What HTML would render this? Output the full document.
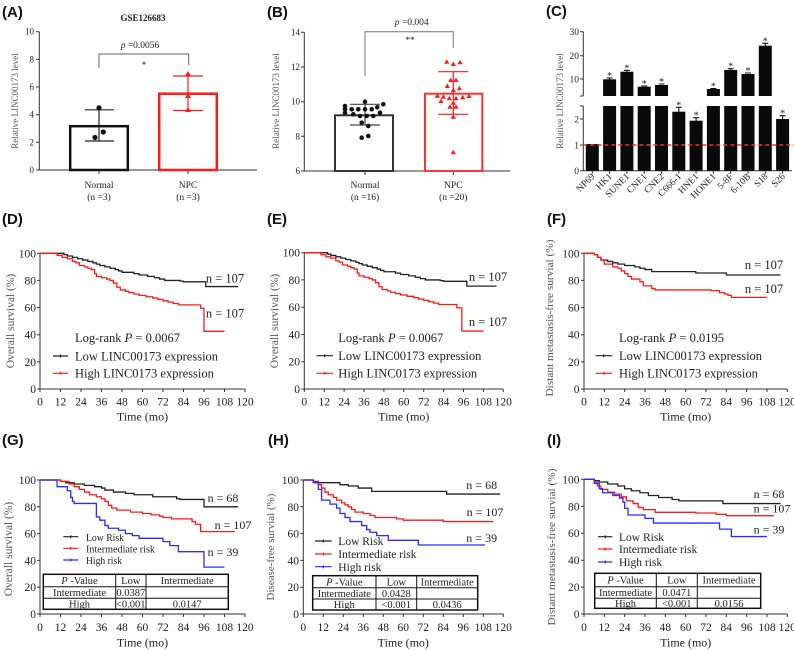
<!DOCTYPE html>
<html><head><meta charset="utf-8"><style>
html,body{margin:0;padding:0;background:#fff;}
svg{display:block;}
text{font-family:"Liberation Serif",serif;fill:#222;}
.pl{font-family:"Liberation Sans",sans-serif;font-weight:bold;font-size:15px;fill:#111;}
.ax{stroke:#333;stroke-width:1;fill:none;}
.yl{fill:#555;}
.k{stroke:#222;stroke-width:1.3;fill:none;vector-effect:non-scaling-stroke;}
.r{stroke:#ff1a1a;stroke-width:1.3;fill:none;vector-effect:non-scaling-stroke;}
.b{stroke:#2b2bff;stroke-width:1.3;fill:none;vector-effect:non-scaling-stroke;}
</style></head><body>
<svg width="794" height="650" viewBox="0 0 794 650" xmlns="http://www.w3.org/2000/svg">
<rect width="794" height="650" fill="#fff"/>

<!-- ================= PANEL A ================= -->
<text class="pl" x="2" y="17">(A)</text>
<text x="143" y="21" font-size="9" font-weight="bold" text-anchor="middle">GSE126683</text>
<path class="ax" stroke="#555" d="M39.3,31.7 V170 H257 M36,31.7 H39.3 M36,59.4 H39.3 M36,87 H39.3 M36,114.7 H39.3 M36,142.3 H39.3 M36,170 H39.3 M99,170 V174 M188,170 V174"/>
<g font-size="9" text-anchor="end">
<text x="34" y="34.7">10</text><text x="34" y="62.4">8</text><text x="34" y="90">6</text><text x="34" y="117.7">4</text><text x="34" y="145.3">2</text><text x="34" y="173">0</text>
</g>
<text class="yl" font-size="9" text-anchor="middle" transform="translate(18,101) rotate(-90)">Relative LINC00173 level</text>
<rect x="70.2" y="126.2" width="57.6" height="43.8" fill="#fff" stroke="#111" stroke-width="2.5"/>
<rect x="159.2" y="93.7" width="57.6" height="76.3" fill="#fff" stroke="#ff1a1a" stroke-width="2.5"/>
<path d="M99,109.8 V141 M85,109.8 H114 M85,141 H114" stroke="#222" stroke-width="1.2" fill="none"/>
<circle cx="99" cy="107.8" r="2.6" fill="#111"/><circle cx="103.3" cy="132" r="2.6" fill="#111"/><circle cx="95" cy="137.5" r="2.6" fill="#111"/>
<path d="M188,76 V110.5 M173,76 H203 M173,110.5 H203" stroke="#ff1a1a" stroke-width="1.2" fill="none"/>
<g fill="#ff1a1a">
<path d="M188,71 l3,5 h-6z"/><path d="M188,93 l3,5 h-6z"/><path d="M188,107 l3,5 h-6z"/>
</g>
<path d="M99,68 V54 H188.7 V65" stroke="#666" stroke-width="1" fill="none"/>
<text x="140" y="48" font-size="9.5" text-anchor="middle"><tspan font-style="italic">p</tspan> =0.0056</text>
<text x="144" y="68" font-size="9" text-anchor="middle">*</text>
<g font-size="9.5" text-anchor="middle">
<text x="99" y="188">Normal</text><text x="99" y="200">(n =3)</text>
<text x="188" y="188">NPC</text><text x="188" y="200">(n =3)</text>
</g>

<!-- ================= PANEL B ================= -->
<text class="pl" x="267" y="17">(B)</text>
<path class="ax" stroke="#555" d="M304.3,32.3 V171 H510 M301,32.3 H304.3 M301,67 H304.3 M301,101.7 H304.3 M301,136.3 H304.3 M301,171 H304.3 M365,171 V175 M453.3,171 V175"/>
<g font-size="9" text-anchor="end">
<text x="300" y="35.3">14</text><text x="300" y="70">12</text><text x="300" y="104.7">10</text><text x="300" y="139.3">8</text><text x="300" y="174">6</text>
</g>
<text class="yl" font-size="9" text-anchor="middle" transform="translate(279,101) rotate(-90)">Relative LINC00173 level</text>
<rect x="335" y="115.3" width="58" height="55.7" fill="#fff" stroke="#333" stroke-width="2"/>
<rect x="425" y="93.7" width="57.3" height="77.3" fill="#fff" stroke="#ff3333" stroke-width="2"/>
<path d="M365,104.3 V125 M350,104.3 H380 M350,125 H380" stroke="#444" stroke-width="1.2" fill="none"/>
<path d="M453.3,71.7 V114.3 M438.3,71.7 H468.3 M438.3,114.3 H468.3" stroke="#ff1a1a" stroke-width="1.2" fill="none"/>
<g fill="#111">
<circle cx="365" cy="101.7" r="2.3"/><circle cx="345" cy="106" r="2.3"/><circle cx="383.3" cy="104.3" r="2.3"/>
<circle cx="345" cy="109.3" r="2.3"/><circle cx="351.7" cy="109.3" r="2.3"/><circle cx="358.3" cy="109.3" r="2.3"/><circle cx="365" cy="109.3" r="2.3"/><circle cx="371.7" cy="109.3" r="2.3"/><circle cx="377.3" cy="107.3" r="2.3"/>
<circle cx="345" cy="112.7" r="2.3"/><circle cx="353.3" cy="114.3" r="2.3"/><circle cx="360" cy="116" r="2.3"/><circle cx="366.7" cy="116" r="2.3"/><circle cx="373.3" cy="116" r="2.3"/><circle cx="380" cy="112.7" r="2.3"/>
<circle cx="361.7" cy="122.7" r="2.3"/><circle cx="368.3" cy="126" r="2.3"/><circle cx="361.7" cy="137.7" r="2.3"/><circle cx="368.3" cy="136" r="2.3"/>
</g>
<g fill="#ff1a1a">
<path d="M446.7,59.2 l2.6,4.5 h-5.2z"/><path d="M453.3,61.5 l2.6,4.5 h-5.2z"/><path d="M460,59.8 l2.6,4.5 h-5.2z"/>
<path d="M450.7,77.5 l2.6,4.5 h-5.2z"/><path d="M456,77.5 l2.6,4.5 h-5.2z"/>
<path d="M447.3,83.5 l2.6,4.5 h-5.2z"/><path d="M453.3,87.5 l2.6,4.5 h-5.2z"/><path d="M459.3,85.8 l2.6,4.5 h-5.2z"/>
<path d="M437.3,93.2 l2.6,4.5 h-5.2z"/><path d="M443.3,94.2 l2.6,4.5 h-5.2z"/><path d="M449.3,95.8 l2.6,4.5 h-5.2z"/><path d="M456,95.8 l2.6,4.5 h-5.2z"/><path d="M462.7,94.8 l2.6,4.5 h-5.2z"/><path d="M469,93.5 l2.6,4.5 h-5.2z"/>
<path d="M441,98.5 l2.6,4.5 h-5.2z"/><path d="M453.3,100.2 l2.6,4.5 h-5.2z"/>
<path d="M450,104.2 l2.6,4.5 h-5.2z"/><path d="M456,104.2 l2.6,4.5 h-5.2z"/>
<path d="M453.3,114.2 l2.6,4.5 h-5.2z"/><path d="M453.3,149.8 l2.6,4.5 h-5.2z"/>
</g>
<path d="M365,76 V31.7 H453.3 V47.7" stroke="#777" stroke-width="1" fill="none"/>
<text x="411.7" y="25" font-size="9.5" text-anchor="middle"><tspan font-style="italic">p</tspan> =0.004</text>
<text x="410" y="43" font-size="9" text-anchor="middle">**</text>
<g font-size="9.5" text-anchor="middle">
<text x="365" y="188">Normal</text><text x="365" y="200">(n =16)</text>
<text x="453.3" y="188">NPC</text><text x="453.3" y="200">(n =20)</text>
</g>

<!-- ================= PANEL C ================= -->
<text class="pl" x="546" y="16">(C)</text>
<path class="ax" stroke="#555" d="M583.3,31.7 V96 M580,31.7 H583.3 M580,55.7 H583.3 M580,79 H583.3 M580,96 H583.3 M583.3,106 V170.7 H792 M580,106 H583.3 M580,119 H583.3 M580,145 H583.3 M580,170.7 H583.3"/>
<path class="ax" stroke="#555" d="M592.3,170.7 v3 M609.6,170.7 v3 M626.9,170.7 v3 M644.2,170.7 v3 M661.5,170.7 v3 M678.8,170.7 v3 M696.1,170.7 v3 M713.4,170.7 v3 M730.7,170.7 v3 M748,170.7 v3 M765.3,170.7 v3 M782.6,170.7 v3"/>
<g font-size="9.5" text-anchor="end">
<text x="579" y="35">30</text><text x="579" y="59">20</text><text x="579" y="82.3">10</text>
<text x="579" y="122.3">2</text><text x="579" y="148.3">1</text><text x="579" y="174">0</text>
</g>
<text class="yl" font-size="9" text-anchor="middle" transform="translate(563,101) rotate(-90)">Relative LINC00173 level</text>
<g fill="#0a0a0a">
<rect x="585.8" y="144" width="13" height="26.7"/>
<rect x="603.1" y="79.3" width="13" height="16.7"/><rect x="603.1" y="106" width="13" height="64.7"/>
<rect x="620.4" y="71.7" width="13" height="24.3"/><rect x="620.4" y="106" width="13" height="64.7"/>
<rect x="637.7" y="86.7" width="13" height="9.3"/><rect x="637.7" y="106" width="13" height="64.7"/>
<rect x="655" y="85" width="13" height="11"/><rect x="655" y="106" width="13" height="64.7"/>
<rect x="672.3" y="111.7" width="13" height="59"/>
<rect x="689.6" y="120.7" width="13" height="50"/>
<rect x="706.9" y="89" width="13" height="7"/><rect x="706.9" y="106" width="13" height="64.7"/>
<rect x="724.2" y="70" width="13" height="26"/><rect x="724.2" y="106" width="13" height="64.7"/>
<rect x="741.5" y="74" width="13" height="22"/><rect x="741.5" y="106" width="13" height="64.7"/>
<rect x="758.8" y="45.7" width="13" height="50.3"/><rect x="758.8" y="106" width="13" height="64.7"/>
<rect x="776.1" y="119" width="13" height="51.7"/>
</g>
<path d="M606.6,78 h6 M609.6,78 v2 M623.9,70.3 h6 M626.9,70.3 v2 M641.2,86 h6 M658.5,84 h6 M675.8,107.3 h6 M678.8,107.3 v5 M693.1,117.7 h6 M696.1,117.7 v4 M710.4,88.5 h6 M727.7,68.7 h6 M730.7,68.7 v2 M745,73 h6 M762.3,43.3 h6 M765.3,43.3 v3 M779.6,115.7 h6 M782.6,115.7 v4" stroke="#111" stroke-width="1.1" fill="none"/>
<g font-size="10" text-anchor="middle">
<text x="609.6" y="79">*</text><text x="626.9" y="71.3">*</text><text x="644.2" y="87">*</text><text x="661.5" y="85">*</text>
<text x="678.8" y="108.3">*</text><text x="696.1" y="118.7">*</text><text x="713.4" y="89.5">*</text><text x="730.7" y="69.7">*</text>
<text x="748" y="74">*</text><text x="765.3" y="44.3">*</text><text x="782.6" y="116.7">*</text>
</g>
<line x1="583.3" y1="145" x2="794" y2="145" stroke="#ff2a2a" stroke-width="1.5" stroke-dasharray="4,3"/>
<g font-size="9.5" text-anchor="end">
<text transform="translate(595.3,177) rotate(-45)">NP69</text>
<text transform="translate(612.6,177) rotate(-45)">HK1</text>
<text transform="translate(629.9,177) rotate(-45)">SUNE1</text>
<text transform="translate(647.2,177) rotate(-45)">CNE1</text>
<text transform="translate(664.5,177) rotate(-45)">CNE2</text>
<text transform="translate(681.8,177) rotate(-45)">C666-1</text>
<text transform="translate(699.1,177) rotate(-45)">HNE1</text>
<text transform="translate(716.4,177) rotate(-45)">HONE1</text>
<text transform="translate(733.7,177) rotate(-45)">5-8F</text>
<text transform="translate(751,177) rotate(-45)">6-10B</text>
<text transform="translate(768.3,177) rotate(-45)">S18</text>
<text transform="translate(785.6,177) rotate(-45)">S26</text>
</g>

<!-- ================= PANEL D ================= -->
<text class="pl" x="2" y="224">(D)</text>
<path class="ax" d="M40,253.3 V389 H245 M37,253.3 H40 M37,280.4 H40 M37,307.6 H40 M37,334.7 H40 M37,361.9 H40 M37,389 H40 M40,389 v3 M60.5,389 v3 M81,389 v3 M101.5,389 v3 M122,389 v3 M142.5,389 v3 M163,389 v3 M183.5,389 v3 M204,389 v3 M224.5,389 v3 M245,389 v3"/>
<g font-size="11.5" text-anchor="end">
<text x="36" y="257.3">100</text><text x="36" y="284.4">80</text><text x="36" y="311.6">60</text><text x="36" y="338.7">40</text><text x="36" y="365.9">20</text><text x="36" y="393">0</text>
</g>
<g font-size="11.5" text-anchor="middle">
<text x="40" y="405.5">0</text><text x="60.5" y="405.5">12</text><text x="81" y="405.5">24</text><text x="101.5" y="405.5">36</text><text x="122" y="405.5">48</text><text x="142.5" y="405.5">60</text><text x="163" y="405.5">72</text><text x="183.5" y="405.5">84</text><text x="204" y="405.5">96</text><text x="224.5" y="405.5">108</text><text x="245" y="405.5">120</text>
</g>
<text x="142.5" y="420.5" font-size="12" text-anchor="middle">Time (mo)</text>
<text class="yl" font-size="11.5" text-anchor="middle" transform="translate(14,321) rotate(-90)">Overall survival (%)</text>
<g transform="translate(40,389) scale(1.7083,-1.357)">
<path class="k" d="M0,100 H14 V99 H16 V98 H19 V97 H22 V96 H25 V95 H28 V94 H31 V93 H33 V92 H35 V91 H38 V90 H41 V89 H44 V88 H46 V87 H48 V86 H55 V85 H58 V84 H63 V83 H67 V82 H70 V81 H73 V80 H82 V79.5 H84 V79 H97 V75.5 H116"/>
<path class="r" d="M0,100 H10 V98.5 H13 V97 H16 V96 H19 V94 H21 V93 H23 V91 H26 V90 H28 V89 H30 V88 H32 V85 H33 V83 H36 V82 H39 V81 H41 V80 H43 V78 H45 V75 H47 V73 H50 V72 H52 V71 H55 V70 H58 V69 H62 V68 H66 V67 H69 V66 H72 V65 H75 V64 H78 V63 H81 V62 H94 V59.5 H96 V42.5 H108"/>
</g>
<g font-size="12.5" text-anchor="middle"><text x="225" y="282.5">n = 107</text><text x="225" y="317.5">n = 107</text></g>
<text x="75" y="342" font-size="12.5">Log-rank  <tspan font-style="italic">P</tspan> = 0.0067</text>
<path d="M53,356 H68 M60.5,354.5 v3" stroke="#222" stroke-width="1.2"/>
<path d="M53,373.3 H68 M60.5,371.8 v3" stroke="#ff1a1a" stroke-width="1.2"/>
<text x="75" y="360.3" font-size="12.5">Low LINC00173 expression</text>
<text x="75" y="377.6" font-size="12.5">High LINC0173 expression</text>

<!-- ================= PANEL E ================= -->
<text class="pl" x="267" y="224">(E)</text>
<path class="ax" d="M304.3,252.7 V389 H503.3 M301.3,252.7 H304.3 M301.3,279.9 H304.3 M301.3,307.2 H304.3 M301.3,334.5 H304.3 M301.3,361.7 H304.3 M301.3,389 H304.3 M304.3,389 v3 M324.2,389 v3 M344.1,389 v3 M364,389 v3 M383.9,389 v3 M403.8,389 v3 M423.7,389 v3 M443.6,389 v3 M463.5,389 v3 M483.4,389 v3 M503.3,389 v3"/>
<g font-size="11.5" text-anchor="end">
<text x="300" y="256.7">100</text><text x="300" y="283.9">80</text><text x="300" y="311.2">60</text><text x="300" y="338.5">40</text><text x="300" y="365.7">20</text><text x="300" y="393">0</text>
</g>
<g font-size="11.5" text-anchor="middle">
<text x="304.3" y="405.5">0</text><text x="324.2" y="405.5">12</text><text x="344.1" y="405.5">24</text><text x="364" y="405.5">36</text><text x="383.9" y="405.5">48</text><text x="403.8" y="405.5">60</text><text x="423.7" y="405.5">72</text><text x="443.6" y="405.5">84</text><text x="463.5" y="405.5">96</text><text x="483.4" y="405.5">108</text><text x="503.3" y="405.5">120</text>
</g>
<text x="403.8" y="420.5" font-size="12" text-anchor="middle">Time (mo)</text>
<text class="yl" font-size="11.5" text-anchor="middle" transform="translate(278,321) rotate(-90)">Overall survival (%)</text>
<g transform="translate(304.3,389) scale(1.6583,-1.363)">
<path class="k" d="M0,100 H14 V99 H16 V98 H19 V97 H22 V96 H25 V95 H28 V94 H31 V93 H33 V92 H35 V91 H38 V90 H41 V89 H44 V88 H46 V87 H48 V86 H55 V85 H58 V84 H63 V83 H67 V82 H70 V81 H73 V80 H82 V79.5 H84 V79 H98 V75.5 H116"/>
<path class="r" d="M0,100 H10 V98.5 H13 V97 H16 V96 H19 V94 H21 V93 H23 V91 H26 V90 H28 V89 H30 V88 H32 V85 H33 V83 H36 V82 H39 V81 H41 V80 H43 V78 H45 V75 H47 V73 H50 V72 H52 V71 H55 V70 H58 V69 H62 V68 H66 V67 H69 V66 H72 V65 H75 V64 H78 V63 H81 V62 H92 V59.5 H95 V42.5 H108"/>
</g>
<g font-size="12.5" text-anchor="middle"><text x="488" y="281">n = 107</text><text x="488" y="326">n = 107</text></g>
<text x="338.3" y="342" font-size="12.5">Log-rank  <tspan font-style="italic">P</tspan> = 0.0067</text>
<path d="M316.7,355.7 H333 M324.8,354.2 v3" stroke="#222" stroke-width="1.2"/>
<path d="M316.7,373.3 H333 M324.8,371.8 v3" stroke="#ff1a1a" stroke-width="1.2"/>
<text x="338.3" y="360" font-size="12.5">Low LINC00173 expression</text>
<text x="338.3" y="377.6" font-size="12.5">High LINC0173 expression</text>

<!-- ================= PANEL F ================= -->
<text class="pl" x="547" y="224">(F)</text>
<path class="ax" d="M584,253.3 V389 H787.3 M581,253.3 H584 M581,280.4 H584 M581,307.6 H584 M581,334.7 H584 M581,361.9 H584 M581,389 H584 M584,389 v3 M604.3,389 v3 M624.7,389 v3 M645,389 v3 M665.3,389 v3 M685.7,389 v3 M706,389 v3 M726.3,389 v3 M746.7,389 v3 M767,389 v3 M787.3,389 v3"/>
<g font-size="11.5" text-anchor="end">
<text x="579.5" y="257.3">100</text><text x="579.5" y="284.4">80</text><text x="579.5" y="311.6">60</text><text x="579.5" y="338.7">40</text><text x="579.5" y="365.9">20</text><text x="579.5" y="393">0</text>
</g>
<g font-size="11.5" text-anchor="middle">
<text x="584" y="405.5">0</text><text x="604.3" y="405.5">12</text><text x="624.7" y="405.5">24</text><text x="645" y="405.5">36</text><text x="665.3" y="405.5">48</text><text x="685.7" y="405.5">60</text><text x="706" y="405.5">72</text><text x="726.3" y="405.5">84</text><text x="746.7" y="405.5">96</text><text x="767" y="405.5">108</text><text x="787.3" y="405.5">120</text>
</g>
<text x="685.7" y="420.5" font-size="12" text-anchor="middle">Time (mo)</text>
<text class="yl" font-size="10.5" text-anchor="middle" textLength="157" lengthAdjust="spacingAndGlyphs" transform="translate(553,318) rotate(-90)">Distant metastasis-free survial (%)</text>
<g transform="translate(584,389) scale(1.6942,-1.357)">
<path class="k" d="M0,100 H6 V99 H8 V97 H10 V95 H14 V94 H17 V93 H20 V92 H24 V91 H30 V90 H33 V89 H36 V88 H40 V86.5 H66 V85.5 H84 V84 H116"/>
<path class="r" d="M0,100 H6 V99 H8 V97 H10 V95 H12 V92 H17 V90 H20 V89 H22 V87 H24 V85 H26 V83 H28 V81 H33 V79 H35 V76 H40 V74 H42 V73 H75 V72.5 H80 V71 H83 V70 H85 V69 H87 V67.5 H108"/>
</g>
<g font-size="12.5" text-anchor="middle"><text x="764" y="269">n = 107</text><text x="764" y="293">n = 107</text></g>
<text x="619" y="342" font-size="12.5">Log-rank  <tspan font-style="italic">P</tspan> = 0.0195</text>
<path d="M595.7,355.7 H612 M603.8,354.2 v3" stroke="#222" stroke-width="1.2"/>
<path d="M595.7,373.3 H612 M603.8,371.8 v3" stroke="#ff1a1a" stroke-width="1.2"/>
<text x="619" y="360" font-size="12.5">Low LINC00173 expression</text>
<text x="619" y="377.6" font-size="12.5">High LINC0173 expression</text>

<!-- ================= PANEL G ================= -->
<text class="pl" x="2" y="445">(G)</text>
<path class="ax" d="M40,480 V614 H245 M37,480 H40 M37,506.8 H40 M37,533.6 H40 M37,560.4 H40 M37,587.2 H40 M37,614 H40 M40,614 v3 M60.5,614 v3 M81,614 v3 M101.5,614 v3 M122,614 v3 M142.5,614 v3 M163,614 v3 M183.5,614 v3 M204,614 v3 M224.5,614 v3 M245,614 v3"/>
<g font-size="11.5" text-anchor="end">
<text x="36" y="484">100</text><text x="36" y="510.8">80</text><text x="36" y="537.6">60</text><text x="36" y="564.4">40</text><text x="36" y="591.2">20</text><text x="36" y="618">0</text>
</g>
<g font-size="11.5" text-anchor="middle">
<text x="40" y="631">0</text><text x="60.5" y="631">12</text><text x="81" y="631">24</text><text x="101.5" y="631">36</text><text x="122" y="631">48</text><text x="142.5" y="631">60</text><text x="163" y="631">72</text><text x="183.5" y="631">84</text><text x="204" y="631">96</text><text x="224.5" y="631">108</text><text x="245" y="631">120</text>
</g>
<text x="142.5" y="646.5" font-size="12" text-anchor="middle">Time (mo)</text>
<text class="yl" font-size="11.5" text-anchor="middle" transform="translate(12,549) rotate(-90)">Overall survival (%)</text>
<g transform="translate(40,614) scale(1.7083,-1.34)">
<path class="k" d="M0,100 H12 V99 H15 V98 H20 V97 H26 V96 H32 V95 H36 V94 H38 V92.5 H43 V91 H50 V90 H55 V89 H66 V87.5 H80 V86 H82 V85.5 H96 V80 H116"/>
<path class="r" d="M0,100 H12 V99 H17 V97 H20 V95 H23 V93 H26 V91 H29 V89 H33 V87.5 H36 V86 H38 V84 H40 V81 H42 V79 H45 V77.5 H53 V76 H60 V75 H65 V74 H70 V73 H72 V72 H77 V71 H89 V69 H91 V67 H94 V61.5 H114"/>
<path class="b" d="M0,100 H10 V95 H16 V92 H18 V87 H19 V84 H20 V82.5 H33 V72.5 H35 V70 H38 V66 H40 V64 H46 V62.5 H50 V60 H54 V58.5 H58 V56.5 H72 V54 H76 V51 H81 V46.5 H96 V35 H108"/>
</g>
<g font-size="12" text-anchor="middle"><text x="223" y="502">n = 68</text><text x="233" y="529">n = 107</text><text x="223" y="556">n = 39</text></g>
<path d="M63.3,536.7 H78.3 M70.8,535.2 v3" stroke="#222" stroke-width="1.2"/>
<path d="M63.3,548.3 H78.3 M70.8,546.8 v3" stroke="#ff1a1a" stroke-width="1.2"/>
<path d="M63.3,560 H78.3 M70.8,558.5 v3" stroke="#2b2bff" stroke-width="1.2"/>
<g font-size="11"><text x="86" y="540.8" textLength="38" lengthAdjust="spacingAndGlyphs">Low Risk</text><text x="86" y="552.4" textLength="69" lengthAdjust="spacingAndGlyphs">Intermediate risk</text><text x="86" y="564.1" textLength="36" lengthAdjust="spacingAndGlyphs">High risk</text></g>
<g stroke="#111" fill="none">
<rect x="43.3" y="574.3" width="185" height="35" stroke-width="1.5"/>
<path d="M43.3,586.7 H228.3 M43.3,598.3 H228.3 M115.7,574.3 V609.3 M146,574.3 V609.3" stroke-width="1"/>
</g>
<g font-size="10.5" text-anchor="middle">
<text x="79.5" y="584"><tspan font-style="italic">P</tspan> -Value</text><text x="130.8" y="584">Low</text><text x="187.2" y="584">Intermediate</text>
<text x="79.5" y="596">Intermediate</text><text x="130.8" y="596">0.0387</text>
<text x="79.5" y="607.3">High</text><text x="130.8" y="607.3">&lt;0.001</text><text x="187.2" y="607.3">0.0147</text>
</g>

<!-- ================= PANEL H ================= -->
<text class="pl" x="268" y="445">(H)</text>
<path class="ax" d="M303.3,480 V614 H503.3 M300.3,480 H303.3 M300.3,506.8 H303.3 M300.3,533.6 H303.3 M300.3,560.4 H303.3 M300.3,587.2 H303.3 M300.3,614 H303.3 M303.3,614 v3 M323.3,614 v3 M343.3,614 v3 M363.3,614 v3 M383.3,614 v3 M403.3,614 v3 M423.3,614 v3 M443.3,614 v3 M463.3,614 v3 M483.3,614 v3 M503.3,614 v3"/>
<g font-size="11.5" text-anchor="end">
<text x="299" y="484">100</text><text x="299" y="510.8">80</text><text x="299" y="537.6">60</text><text x="299" y="564.4">40</text><text x="299" y="591.2">20</text><text x="299" y="618">0</text>
</g>
<g font-size="11.5" text-anchor="middle">
<text x="303.3" y="631">0</text><text x="323.3" y="631">12</text><text x="343.3" y="631">24</text><text x="363.3" y="631">36</text><text x="383.3" y="631">48</text><text x="403.3" y="631">60</text><text x="423.3" y="631">72</text><text x="443.3" y="631">84</text><text x="463.3" y="631">96</text><text x="483.3" y="631">108</text><text x="503.3" y="631">120</text>
</g>
<text x="403.3" y="646.5" font-size="12" text-anchor="middle">Time (mo)</text>
<text class="yl" font-size="11" text-anchor="middle" transform="translate(274,547) rotate(-90)">Disease-free survial (%)</text>
<g transform="translate(303.3,614) scale(1.6667,-1.34)">
<path class="k" d="M0,100 H6 V99 H9 V98 H22 V96.5 H27 V95.5 H33 V94 H41 V91.5 H86 V89.5 H118"/>
<path class="r" d="M0,100 H6 V98.5 H9 V96.5 H11 V94 H13 V91 H15 V89 H18 V87 H20 V85 H23 V83 H25 V81.5 H27 V80 H29 V78 H31 V76 H36 V75 H40 V73.5 H43 V72 H56 V71 H60 V70 H84 V69 H114"/>
<path class="b" d="M0,100 H6 V98 H9 V93 H11 V85 H16 V82 H20 V79 H22 V75 H25 V72 H28 V69 H35 V66 H38 V63 H40 V61 H44 V58.5 H51 V55 H69 V51.5 H109"/>
</g>
<g font-size="12" text-anchor="middle"><text x="481.7" y="489">n = 68</text><text x="485" y="516">n = 107</text><text x="481.7" y="542">n = 39</text></g>
<path d="M315,541 H331.7 M323.3,539.5 v3" stroke="#222" stroke-width="1.2"/>
<path d="M315,554 H331.7 M323.3,552.5 v3" stroke="#ff1a1a" stroke-width="1.2"/>
<path d="M315,566.7 H331.7 M323.3,565.2 v3" stroke="#2b2bff" stroke-width="1.2"/>
<g font-size="11.5"><text x="338.3" y="545.1">Low Risk</text><text x="338.3" y="558.1">Intermediate risk</text><text x="338.3" y="570.8">High risk</text></g>
<g stroke="#111" fill="none">
<rect x="312.7" y="575.7" width="165" height="34.3" stroke-width="1.5"/>
<path d="M312.7,587.7 H477.7 M312.7,599 H477.7 M376,575.7 V610 M416.7,575.7 V610" stroke-width="1"/>
</g>
<g font-size="10.5" text-anchor="middle">
<text x="344.3" y="585.3"><tspan font-style="italic">P</tspan> -Value</text><text x="396.3" y="585.3">Low</text><text x="447.2" y="585.3">Intermediate</text>
<text x="344.3" y="597">Intermediate</text><text x="396.3" y="597">0.0428</text>
<text x="344.3" y="608.2">High</text><text x="396.3" y="608.2">&lt;0.001</text><text x="447.2" y="608.2">0.0436</text>
</g>

<!-- ================= PANEL I ================= -->
<text class="pl" x="547" y="445">(I)</text>
<path class="ax" d="M584,479.3 V614 H787.3 M581,479.3 H584 M581,506.3 H584 M581,533.2 H584 M581,560.2 H584 M581,587.1 H584 M581,614 H584 M584,614 v3 M604.3,614 v3 M624.7,614 v3 M645,614 v3 M665.3,614 v3 M685.7,614 v3 M706,614 v3 M726.3,614 v3 M746.7,614 v3 M767,614 v3 M787.3,614 v3"/>
<g font-size="11.5" text-anchor="end">
<text x="579.5" y="483.3">100</text><text x="579.5" y="510.3">80</text><text x="579.5" y="537.2">60</text><text x="579.5" y="564.2">40</text><text x="579.5" y="591.1">20</text><text x="579.5" y="618">0</text>
</g>
<g font-size="11.5" text-anchor="middle">
<text x="584" y="631">0</text><text x="604.3" y="631">12</text><text x="624.7" y="631">24</text><text x="645" y="631">36</text><text x="665.3" y="631">48</text><text x="685.7" y="631">60</text><text x="706" y="631">72</text><text x="726.3" y="631">84</text><text x="746.7" y="631">96</text><text x="767" y="631">108</text><text x="787.3" y="631">120</text>
</g>
<text x="685.7" y="646.5" font-size="12" text-anchor="middle">Time (mo)</text>
<text class="yl" font-size="10.5" text-anchor="middle" textLength="157" lengthAdjust="spacingAndGlyphs" transform="translate(555,547) rotate(-90)">Distant metastasis-free survial (%)</text>
<g transform="translate(584,614) scale(1.6942,-1.347)">
<path class="k" d="M0,100 H6 V99 H9 V98 H14 V96.5 H20 V95 H24 V93 H28 V91.5 H33 V90 H38 V88 H44 V86.5 H52 V85 H56 V84 H82 V82 H116"/>
<path class="r" d="M0,100 H6 V98 H8 V95 H10 V92.5 H14 V90.5 H18 V89 H22 V87 H25 V84 H29 V82 H32 V79 H35 V77.5 H42 V75.5 H66 V75 H78 V74 H84 V73 H112"/>
<path class="b" d="M0,100 H6 V97 H9 V93 H11 V90 H17 V88 H21 V86 H23 V83 H24 V78.5 H26 V73.5 H36 V71 H41 V67.5 H80 V63 H87 V57.5 H108"/>
</g>
<g font-size="12" text-anchor="middle"><text x="769" y="498">n = 68</text><text x="772" y="512.5">n = 107</text><text x="769" y="533.5">n = 39</text></g>
<path d="M598,536.7 H612.3 M605.2,535.2 v3" stroke="#222" stroke-width="1.2"/>
<path d="M598,549 H612.3 M605.2,547.5 v3" stroke="#ff1a1a" stroke-width="1.2"/>
<path d="M598,562 H612.3 M605.2,560.5 v3" stroke="#2b2bff" stroke-width="1.2"/>
<g font-size="11.5"><text x="619" y="540.8">Low Risk</text><text x="619" y="553.1">Intermediate risk</text><text x="619" y="566.1">High risk</text></g>
<g stroke="#111" fill="none">
<rect x="594.7" y="573.3" width="166" height="35" stroke-width="1.5"/>
<path d="M594.7,586.7 H760.7 M594.7,598.3 H760.7 M656.3,573.3 V608.3 M697.3,573.3 V608.3" stroke-width="1"/>
</g>
<g font-size="10.5" text-anchor="middle">
<text x="625.5" y="583.5"><tspan font-style="italic">P</tspan> -Value</text><text x="676.8" y="583.5">Low</text><text x="729" y="583.5">Intermediate</text>
<text x="625.5" y="596">Intermediate</text><text x="676.8" y="596">0.0471</text>
<text x="625.5" y="607">High</text><text x="676.8" y="607">&lt;0.001</text><text x="729" y="607">0.0156</text>
</g>
</svg>
</body></html>
